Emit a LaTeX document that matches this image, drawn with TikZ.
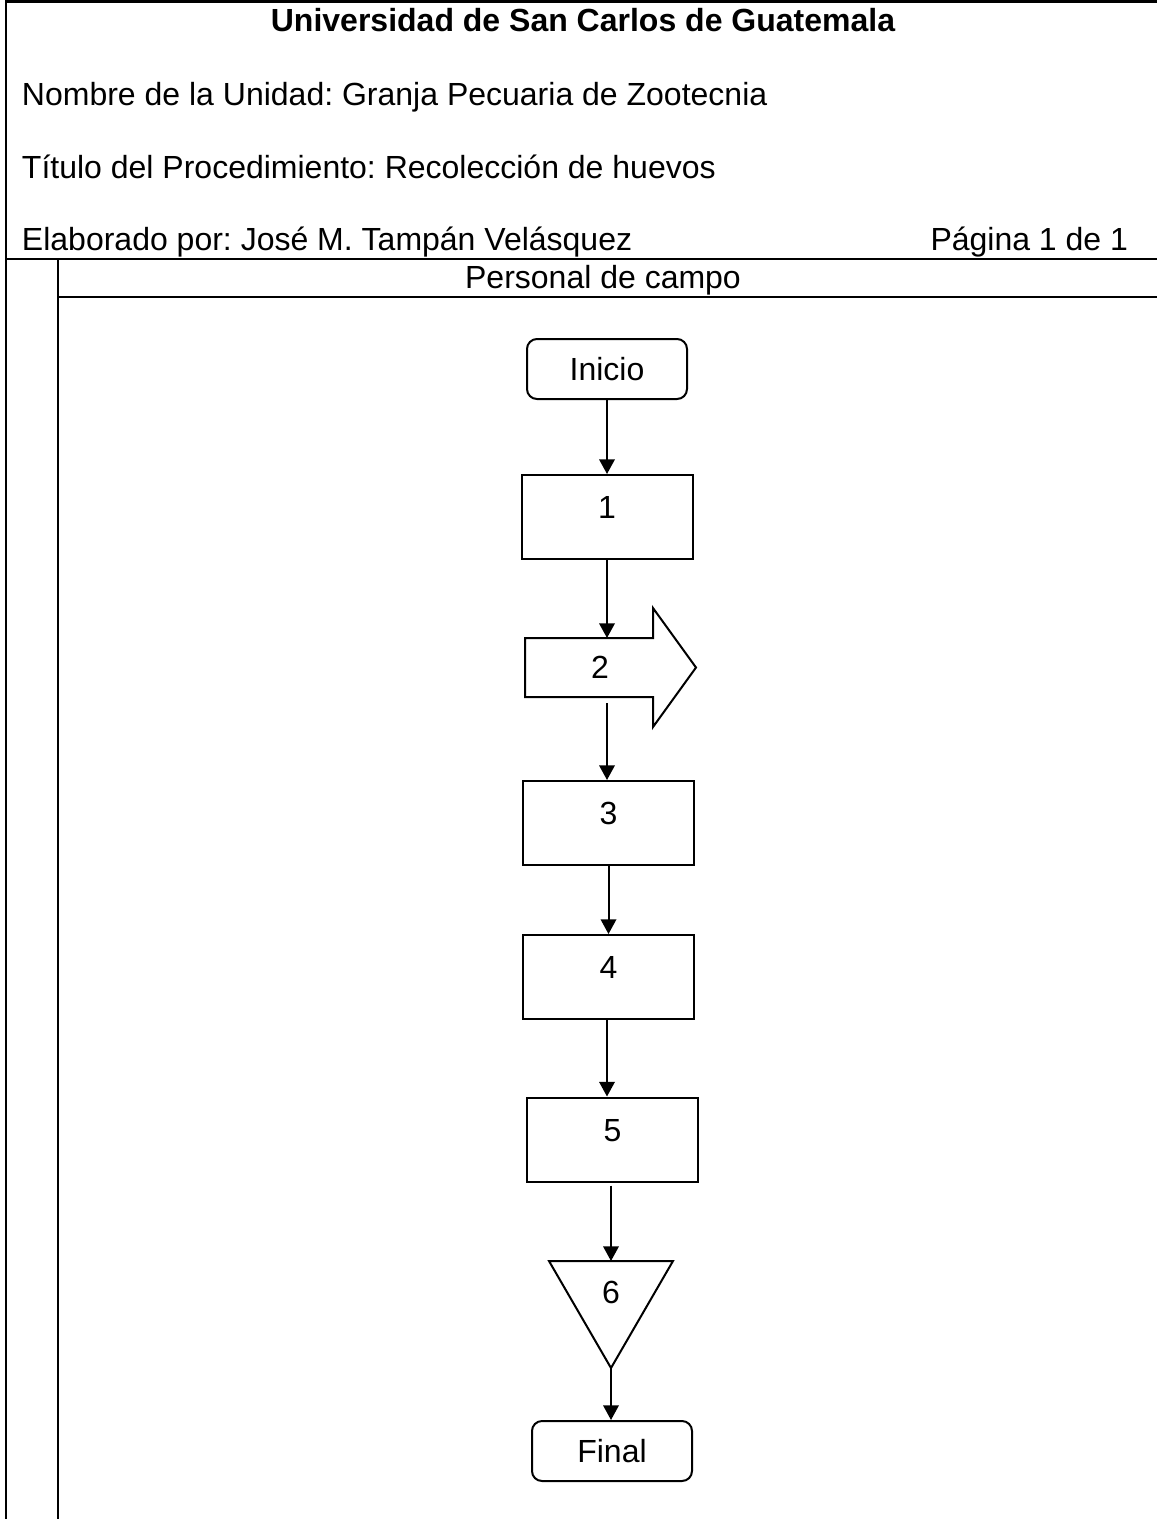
\documentclass[12pt,tikz,border=0pt]{standalone}
\usepackage{fontspec}
\setmainfont{Liberation Sans}
\usepackage{tikz}
\usetikzlibrary{arrows.meta}
\newcommand{\pxl}{0.375pt}
\frenchspacing

\begin{document}
\begin{tikzpicture}[x=0.375pt,y=-0.375pt,->,>={Triangle[length=5.5pt,width=5.8pt]},line width=0.75pt]
                \tikzset{frame/.style={-, line width=1.1pt},
                  txt/.style={inner sep=0pt},
                  term/.style={draw, rounded corners=3.75pt, minimum width=160*\pxl, minimum height=60*\pxl},
                  proc/.style={draw, minimum width=171*\pxl, minimum height=84*\pxl, text depth=7pt},
                  mrk/.style={outer sep=0pt, minimum width=124*\pxl, minimum height=107*\pxl, text depth=16.8pt}}

                \useasboundingbox (0,0) rectangle (1157,1519);

                \draw[frame] (6,1519) -- (6,1.5) -- (1157,1.5);
                \draw[frame] (6,259) -- (1157,259);
                \draw[frame] (58,259) -- (58,1519);
                \draw[frame] (58,297) -- (1157,297);

                \node[txt, anchor=base, font=\bfseries] (uni) at (583,31) {Universidad de San Carlos de Guatemala};
                \node[txt, anchor=base west] (unidad) at (21,105) {Nombre de la Unidad: Granja Pecuaria de Zootecnia};
                \node[txt, anchor=base west] (titulo) at (21,178) {Título del Procedimiento: Recolección de huevos};
                \node[txt, anchor=base west] (autor) at (21,250) {Elaborado por: José M. Tampán Velásquez};
                \node[txt, anchor=base east] (pag) at (1129,250) {Página 1 de 1};
                \node[txt, anchor=base] (lane) at (603,288) {Personal de campo};

                \node[term] (ini) at (607,369) {Inicio};
                \node[proc] (p1) at (607,517) {1};
                \node[outer sep=0pt, minimum width=128*\pxl, minimum height=59*\pxl] (a2) at (589,667.5) {\hspace*{8.25pt}2};
                \node[proc] (p3) at (608.5,823) {3};
                \node[proc] (p4) at (608.5,977) {4};
                \node[proc] (p5) at (612.5,1139.5) {5};
                \node[mrk] (m6) at (611,1314.5) {6};
                \node[term] (fin) at (612,1451) {Final};

                \draw[-] (a2.north west) -- (a2.north east) -- ++(0,-30) -- ++(43,59.5) -- ++(-43,59.5)
                  -- ++(0,-30) -- (a2.south west) -- cycle;
                \draw[-] (m6.north west) -- (m6.north east) -- (m6.south) -- cycle;

                \path (ini) edge (p1);
                \path (p1.south) edge (p1.south |- a2.north);
                \path ([yshift=-6*\pxl]p1.south |- a2.south) edge (p1.south |- p3.north);
                \path (p3) edge (p4);
                \path (p4.south -| p1.south) edge (p1.south |- p5.north);
                \path ([yshift=-3*\pxl]p5.south -| m6.north) edge (m6.north);
                \path (m6.south) edge (m6.south |- fin.north);
            \end{tikzpicture}
\end{document}
